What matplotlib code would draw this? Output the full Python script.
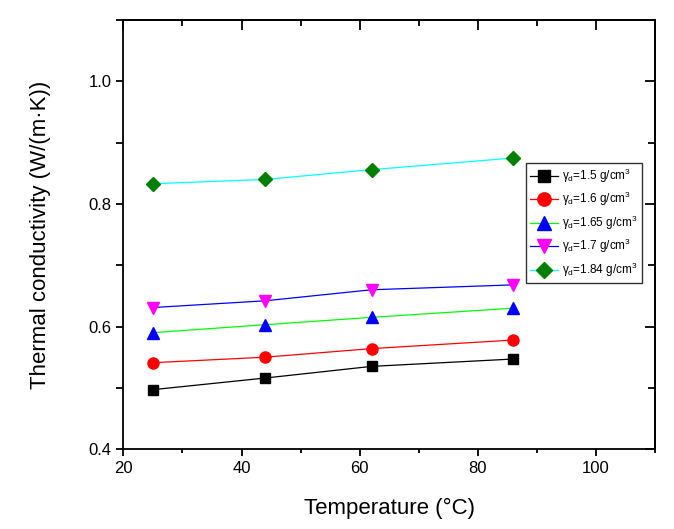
import matplotlib
matplotlib.use('Agg')
import matplotlib.pyplot as plt
from matplotlib.ticker import MultipleLocator

plt.rcParams['font.family'] = ['Liberation Sans', 'DejaVu Sans']
plt.rcParams['mathtext.fontset'] = 'custom'
plt.rcParams['mathtext.rm'] = 'Liberation Sans'
plt.rcParams['mathtext.it'] = 'Liberation Sans'

temperature = [25, 44, 62, 86]
k_15 = [0.497, 0.516, 0.535, 0.547]
k_16 = [0.541, 0.550, 0.564, 0.578]
k_165 = [0.590, 0.603, 0.615, 0.630]
k_17 = [0.631, 0.642, 0.660, 0.668]
k_184 = [0.833, 0.840, 0.856, 0.875]
labels = [r'$\gamma_d$=1.5 g/cm$^3$', r'$\gamma_d$=1.6 g/cm$^3$',
          r'$\gamma_d$=1.65 g/cm$^3$', r'$\gamma_d$=1.7 g/cm$^3$',
          r'$\gamma_d$=1.84 g/cm$^3$']

series = [k_15, k_16, k_165, k_17, k_184]
line_colors = ['black', 'red', '#00ff00', 'blue', 'cyan']
marker_colors = ['black', 'red', 'blue', 'magenta', '#007f00']
markers = ['s', 'o', '^', 'v', 'D']
sizes = [7, 8, 8.5, 8.5, 7]

fig = plt.figure(figsize=(6.74, 5.29), dpi=100)
ax = fig.add_axes([0.183, 0.151, 0.789, 0.811])

for ys, lc, mc, m, s, lab in zip(series, line_colors, marker_colors, markers, sizes, labels):
    ax.plot(temperature, ys, color=lc, lw=0.9, marker=m, ms=s,
            markerfacecolor=mc, markeredgecolor=mc, label=lab)

ax.set_xlim(20, 110)
ax.set_ylim(0.4, 1.1)
ax.xaxis.set_major_locator(MultipleLocator(20))
ax.xaxis.set_minor_locator(MultipleLocator(10))
ax.set_yticks([0.4, 0.6, 0.8, 1.0])
ax.set_yticklabels(['0.4', '0.6', '0.8', '1.0'])
ax.yaxis.set_minor_locator(MultipleLocator(0.1))
ax.tick_params(which='major', direction='out', length=5, width=1.3, labelsize=12)
ax.tick_params(axis='x', which='minor', direction='out', length=3, width=1.3)
ax.tick_params(axis='y', which='minor', direction='out', length=5, width=1.3)
for sp in ax.spines.values():
    sp.set_linewidth(1.3)

# inward ticks on top and right, no labels
top = ax.secondary_xaxis('top')
top.xaxis.set_major_locator(MultipleLocator(20))
top.xaxis.set_minor_locator(MultipleLocator(10))
top.tick_params(which='major', direction='in', length=7, width=1.3, labeltop=False)
top.tick_params(which='minor', direction='in', length=4, width=1.3)
top.spines['top'].set_linewidth(1.3)
right = ax.secondary_yaxis('right')
right.yaxis.set_major_locator(MultipleLocator(0.2))
right.yaxis.set_minor_locator(MultipleLocator(0.1))
right.tick_params(which='major', direction='in', length=7, width=1.3, labelright=False)
right.tick_params(which='minor', direction='in', length=5, width=1.3)
right.spines['right'].set_linewidth(1.3)

ax.set_xlabel('Temperature (°C)', fontsize=16, labelpad=16)
ax.set_ylabel('Thermal conductivity (W/(m·K))', fontsize=16, labelpad=27)

leg = ax.legend(loc='upper left', bbox_to_anchor=(0.757, 0.668), fontsize=8.5,
                frameon=True, fancybox=False, edgecolor='black',
                handlelength=2.4, handletextpad=0.3, borderpad=0.35,
                labelspacing=0.45, borderaxespad=0, markerscale=1.2)
leg.get_frame().set_linewidth(1.0)

fig.savefig('out.png', dpi=100)
